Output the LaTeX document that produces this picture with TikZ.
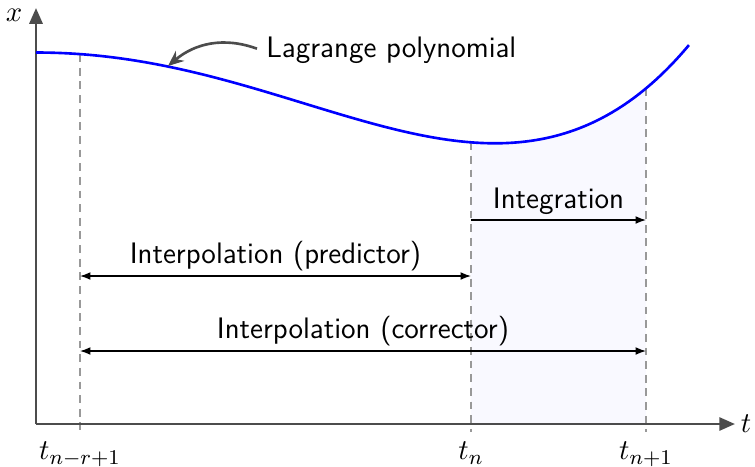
\documentclass[tikz,border=0pt]{standalone}
\usetikzlibrary{arrows.meta}
\begin{document}
\begin{tikzpicture}[x=0.0134cm,y=-0.0134cm,
  every node/.style={font=\fontsize{11.3}{13.5}\selectfont\sffamily},
  axisline/.style={draw=black!70,line width=1pt,-{Triangle[length=6pt,width=5pt]}},
  guide/.style={draw=black!40,dash pattern=on 3pt off 2.2pt,line width=0.5pt},
  curveline/.style={draw=blue,line width=1pt},
  spanline/.style={draw=black,line width=0.5pt},
  onetip/.style={-{Latex[length=4pt,width=3pt]}},
  twotips/.style={{Latex[length=4pt,width=3pt]}-{Latex[length=4pt,width=3pt]}},
  lagarrow/.style={draw=black!70,line width=1pt,-{Stealth[length=6pt,width=5pt]}},
  spanlabel/.style={above,inner sep=1.8pt},
  shade/.style={fill=blue!2.5}]
\useasboundingbox (0,0) rectangle (755,466);
% key coordinates
\coordinate (O) at (36,424);
\coordinate (xend) at (735,424);
\coordinate (yend) at (36,8);
\coordinate (a2) at (80,432);
\coordinate (b2) at (471,432);
\coordinate (c2) at (646,432);
\coordinate (ca) at (80,54.1);
\coordinate (cb) at (471,142.3);
\coordinate (cc) at (646,88.35);
\coordinate (lagtip) at (168,66);
% shaded integration region
\fill[shade] plot[domain=4.35:6.10,samples=60,variable=\u] ({36+100*\u},{52.5+8.226*\u*\u+0.1716*\u*\u*\u-0.2233*\u*\u*\u*\u}) -- (646,424) -- (471,424) -- cycle;
% guides
\draw[guide] (ca) -- (a2);
\draw[guide] (cb) -- (b2);
\draw[guide] (cc) -- (c2);
% axes
\draw[axisline] (O) -- (xend);
\draw[axisline] (O) -- (yend);
\node[anchor=west,inner sep=2pt] (tlab) at (xend) {$t$};
\node (xlab) at (14,15) {$x$};
% curve (Lagrange polynomial)
\draw[curveline] plot[domain=0:6.53,samples=120,variable=\u] ({36+100*\u},{52.5+8.226*\u*\u+0.1716*\u*\u*\u-0.2233*\u*\u*\u*\u});
% Lagrange label
\node[anchor=west] (lag) at (257,50) {Lagrange polynomial};
\draw[lagarrow] ([yshift=0.5pt]lag.west) to[out=160,in=40] (lagtip);
% spans
\coordinate (i1) at (471,220);
\coordinate (i2) at (646,220);
\coordinate (p1) at (80,276);
\coordinate (p2) at (471,276);
\coordinate (k1) at (80,351);
\coordinate (k2) at (646,351);
\draw[spanline,onetip] (i1) -- node[spanlabel] (integ) {Integration} (i2);
\draw[spanline,twotips] (p1) -- node[spanlabel] (pred) {Interpolation (predictor)} (p2);
\draw[spanline,twotips] (k1) -- node[spanlabel] (corr) {Interpolation (corrector)} (k2);
% tick labels
\node[anchor=north] (ta) at (80,433) {$t_{n-r+1}$};
\node[anchor=north] (tb) at (471,433) {$t_{n}$};
\node[anchor=north] (tc) at (646,433) {$t_{n+1}$};
\end{tikzpicture}
\end{document}
